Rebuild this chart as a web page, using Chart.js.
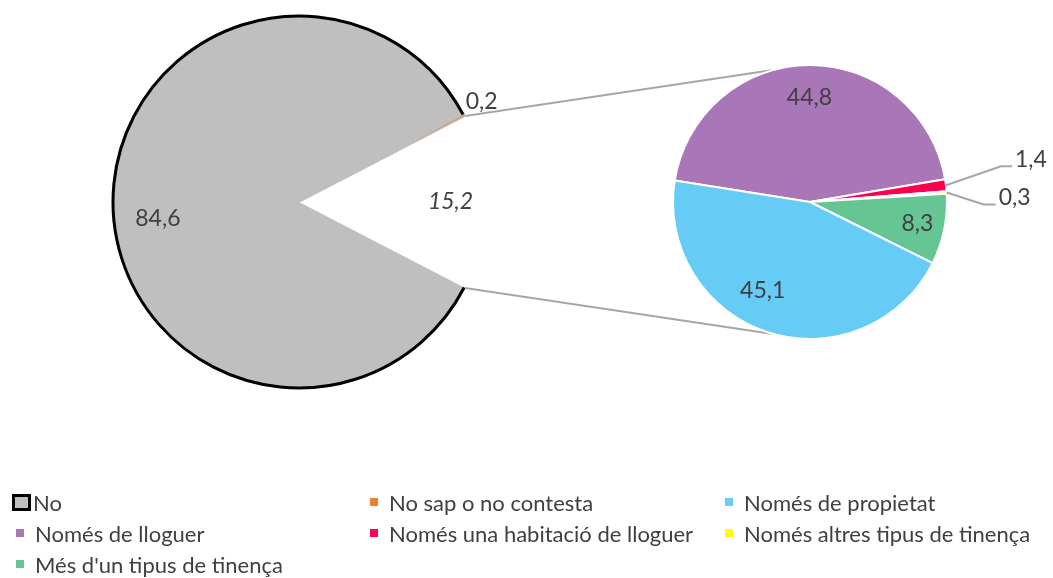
<!DOCTYPE html>
<html>
<head>
<meta charset="utf-8">
<script src="https://cdn.jsdelivr.net/npm/chart.js@4.4.1/dist/chart.umd.min.js"></script>
<style>
  body { margin: 0; background: #fff; }
  #wrap { position: relative; width: 1053px; height: 578px; background: #fff; overflow: hidden; }
  #wrap canvas { position: absolute; left: 0; top: 0; }
  #legend { position: absolute; left: 0; top: 0; width: 1053px; height: 578px; font-family: Lato, sans-serif; font-size: 22px; color: #404040; }
  .item { position: absolute; display: flex; align-items: center; height: 26px; white-space: nowrap; }
  .mk { width: 8px; height: 8px; margin-right: 11px; }
  .mk.big { width: 13px; height: 11px; border: 3px solid #000; margin-left: -4px; margin-right: 2px; }
</style>
</head>
<body>
<div id="wrap">
  <canvas id="left" width="1053" height="480"></canvas>
  <canvas id="right" width="1053" height="480"></canvas>
  <div id="legend"></div>
</div>
<script>
// data
const mainLabels = ['Sí', 'No', 'No sap o no contesta']
const mainValues = [15.2, 84.6, 0.2]
const mainColors = ['rgba(0,0,0,0)', '#BFBFBF', '#ED7D31']

const subLabels = ['Només de lloguer', 'Només una habitació de lloguer', 'Només altres tipus de tinença', "Més d'un tipus de tinença", 'Només de propietat']
const subValues = [44.8, 1.4, 0.3, 8.3, 45.1]
const subColors = ['#A977B8', '#FF0050', '#FFFF00', '#66C693', '#66CCF5']

const legendOrder = ['No', 'No sap o no contesta', 'Només de propietat', 'Només de lloguer', 'Només una habitació de lloguer', 'Només altres tipus de tinença', "Més d'un tipus de tinença"]

const fmt = (v) => v.toFixed(1).replace('.', ',')
const labelFont = '23px Lato, sans-serif'
const labelColor = '#404040'
const total = (arr) => arr.reduce((a, b) => a + b, 0)

// label placement: radius factor + angle shift (deg), per slice index
const mainLabelPos = [
    { f: 0.81, da: 0, italic: true },
    { f: 0.76, da: -6.5 },
    { f: 1.04, da: -3.3 }
]
const subLabelPos = [
    { f: 0.76, da: 0 },
    { leader: [[55, -19], [11, 0]], text: [3, -7] },
    { leader: [[37, 12], [12, 0]], text: [3, -7] },
    { f: 0.80, da: 0 },
    { f: 0.73, da: 10.5 }
]

const drawText = (ctx, txt, x, y, align, italic) => {
    ctx.save();
    ctx.font = (italic ? 'italic ' : '') + labelFont;
    ctx.fillStyle = labelColor;
    ctx.textAlign = align;
    ctx.textBaseline = 'middle';
    ctx.fillText(txt, x, y);
    ctx.restore();
}

const sliceLabels = (positions, values) => ({
    id: 'sliceLabels',
    afterDatasetsDraw(chart) {
        const ctx = chart.ctx;
        chart.getDatasetMeta(0).data.forEach((arc, i) => {
            const p = positions[i];
            const { x, y, startAngle, endAngle, outerRadius } = arc.getProps(['x', 'y', 'startAngle', 'endAngle', 'outerRadius'], true);
            const mid = (startAngle + endAngle) / 2;
            if (p.leader) {
                let px = x + Math.cos(mid) * outerRadius;
                let py = y + Math.sin(mid) * outerRadius;
                ctx.save();
                ctx.strokeStyle = '#A6A6A6';
                ctx.lineWidth = 2;
                ctx.beginPath();
                ctx.moveTo(px, py);
                p.leader.forEach(([dx, dy]) => { px += dx; py += dy; ctx.lineTo(px, py); });
                ctx.stroke();
                ctx.restore();
                drawText(ctx, fmt(values[i]), px + p.text[0], py + p.text[1], 'left');
            } else {
                const a = mid + p.da * Math.PI / 180;
                const tx = x + Math.cos(a) * outerRadius * p.f;
                const ty = y + Math.sin(a) * outerRadius * p.f;
                drawText(ctx, fmt(values[i]), tx, ty, p.f > 1 ? 'left' : 'center', p.italic);
            }
        });
    }
});

// black outline on the outer arc of "No"
const outline = {
    id: 'outline',
    afterDatasetsDraw(chart) {
        const arc = chart.getDatasetMeta(0).data[1];
        const { x, y, startAngle, endAngle, outerRadius } = arc.getProps(['x', 'y', 'startAngle', 'endAngle', 'outerRadius'], true);
        const ctx = chart.ctx;
        ctx.save();
        ctx.strokeStyle = '#000';
        ctx.lineWidth = 3;
        ctx.beginPath();
        ctx.arc(x, y, outerRadius - 1, startAngle, endAngle);
        ctx.stroke();
        ctx.restore();
    }
};

Chart.defaults.animation = false;
Chart.defaults.events = [];

const leftChart = new Chart(document.getElementById('left').getContext('2d'), {
    type: 'pie',
    data: {
        labels: mainLabels,
        datasets: [{
            data: mainValues,
            backgroundColor: mainColors,
            borderColor: ['rgba(0,0,0,0)', '#BFBFBF', '#BFBFBF'],
            borderWidth: [0, 0, 1.5],
            hoverOffset: 0
        }]
    },
    options: {
        responsive: false,
        devicePixelRatio: 1,
        radius: 187,
        rotation: 90 - mainValues[0] / total(mainValues) * 180,
        layout: { padding: { left: 112, right: 567, top: 15, bottom: 91 } },
        plugins: { legend: { display: false }, tooltip: { enabled: false } }
    },
    plugins: [outline, sliceLabels(mainLabelPos, mainValues)]
});

// connector lines from the gap of the main pie to the secondary pie
const connectors = {
    id: 'connectors',
    beforeDatasetsDraw(chart) {
        const gap = leftChart.getDatasetMeta(0).data[0].getProps(['x', 'y', 'startAngle', 'endAngle', 'outerRadius'], true);
        const sub = chart.getDatasetMeta(0).data[0].getProps(['x', 'y', 'outerRadius'], true);
        const ends = [[gap.startAngle, -105], [gap.endAngle, 105]];
        const ctx = chart.ctx;
        ctx.save();
        ctx.strokeStyle = '#A6A6A6';
        ctx.lineWidth = 2;
        ends.forEach(([a, b]) => {
            const br = b * Math.PI / 180;
            ctx.beginPath();
            ctx.moveTo(gap.x + Math.cos(a) * gap.outerRadius, gap.y + Math.sin(a) * gap.outerRadius);
            ctx.lineTo(sub.x + Math.cos(br) * sub.outerRadius, sub.y + Math.sin(br) * sub.outerRadius);
            ctx.stroke();
        });
        ctx.restore();
    }
};

const rightChart = new Chart(document.getElementById('right').getContext('2d'), {
    type: 'pie',
    data: {
        labels: subLabels,
        datasets: [{ data: subValues, backgroundColor: subColors, borderColor: '#fff', borderWidth: 2, hoverOffset: 0 }]
    },
    options: {
        responsive: false,
        devicePixelRatio: 1,
        radius: 137,
        rotation: 279,
        layout: { padding: { left: 673, right: 106, top: 65, bottom: 141 } },
        plugins: { legend: { display: false }, tooltip: { enabled: false } }
    },
    plugins: [connectors, sliceLabels(subLabelPos, subValues)]
});

// legend, 3 columns
const colorOf = (name) => {
    const i = subLabels.indexOf(name);
    if (i >= 0) return subColors[i];
    return mainColors[mainLabels.indexOf(name)];
}
const legendEl = document.getElementById('legend');
const colX = [16, 370, 725];
const rowY = [489, 520, 551];
legendOrder.forEach((name, i) => {
    const item = document.createElement('div');
    item.className = 'item';
    item.style.left = colX[i % 3] + 'px';
    item.style.top = rowY[Math.floor(i / 3)] + 'px';
    const mk = document.createElement('span');
    mk.className = 'mk' + (name === 'No' ? ' big' : '');
    mk.style.background = colorOf(name);
    const tx = document.createElement('span');
    tx.textContent = name;
    item.appendChild(mk);
    item.appendChild(tx);
    legendEl.appendChild(item);
});
</script>
</body>
</html>
